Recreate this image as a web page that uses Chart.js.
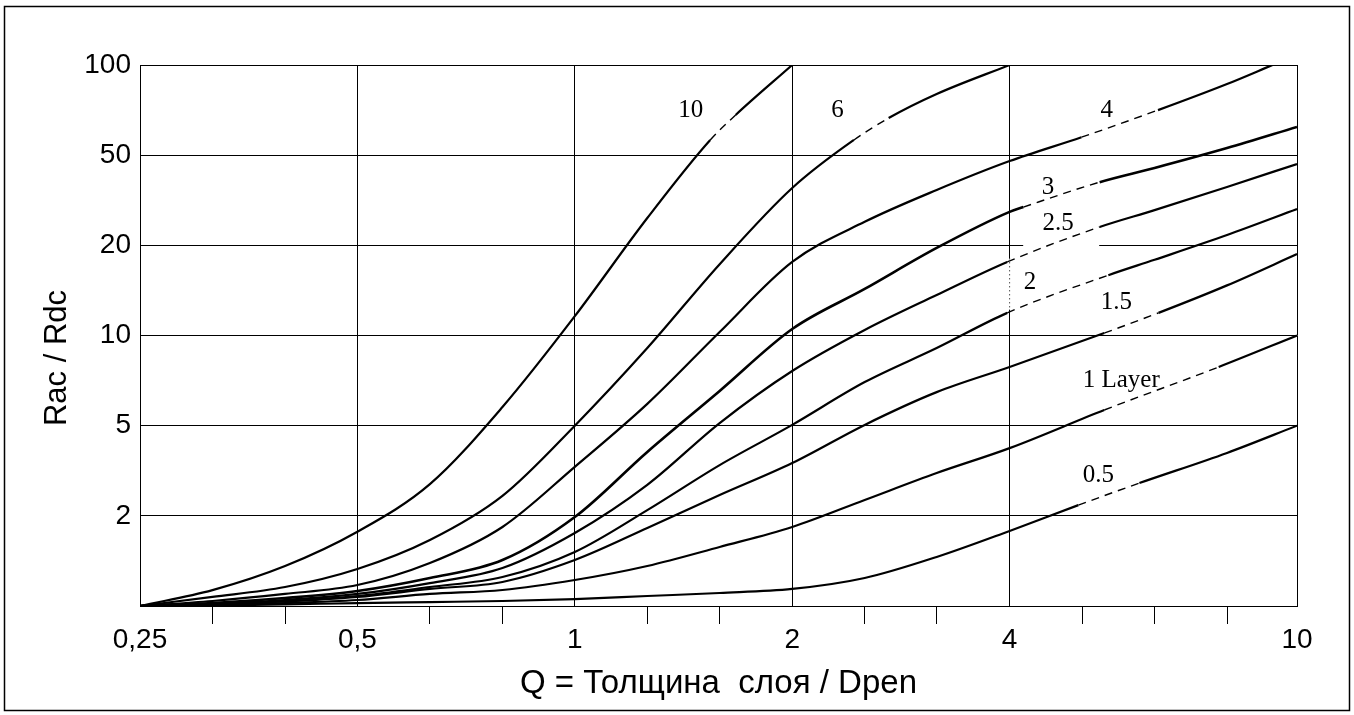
<!DOCTYPE html>
<html lang="ru">
<head>
<meta charset="UTF-8">
<title>Rac / Rdc</title>
<script src="https://cdn.jsdelivr.net/npm/chart.js"></script>
<style>
body { margin: 0; background: #fff; }
canvas { display: block; }
</style>
</head>
<body>
<canvas id="chart" width="1354" height="715"></canvas>
<script>
// ось Y: шаги 1-2-5, нарисованы через равные промежутки
const yTickValues = [1, 2, 5, 10, 20, 50, 100];
const yTickLabels = ['', '2', '5', '10', '20', '50', '100'];
const xMajorTicks = [0.25, 0.5, 1, 2, 4, 10];
const xMajorLabels = ['0,25', '0,5', '1', '2', '4', '10'];
const xMinorTicks = [0.315, 0.397, 0.63, 0.794, 1.26, 1.587, 2.52, 3.17, 5.04, 6.35, 8];

// кривые: Q и Rac/Rdc
const q10 = [0.25, 0.315, 0.397, 0.5, 0.63, 0.794, 1, 1.26, 1.54, 1.67, 2];
const r10 = [1, 1.13, 1.36, 1.77, 2.76, 5.77, 11.6, 26.4, 56.2, 68.1, 100];
const q6 = [0.25, 0.315, 0.397, 0.5, 0.63, 0.794, 1, 1.26, 1.587, 2, 2.435, 2.72, 3.17, 4];
const r6 = [1, 1.072, 1.157, 1.329, 1.661, 2.45, 5.0, 9.08, 17.3, 35.8, 56.2, 66.5, 80, 100];
const q4 = [0.25, 0.315, 0.397, 0.5, 0.63, 0.794, 1, 1.26, 1.587, 2, 2.52, 3.17, 4, 5.03, 6.42, 8, 9.25];
const r4 = [1, 1.039, 1.097, 1.175, 1.392, 1.836, 3.29, 5.91, 10.27, 17.6, 25.4, 35.1, 47.1, 57.4, 70.7, 86.4, 100];
const q3 = [0.25, 0.315, 0.397, 0.5, 0.63, 0.794, 1, 1.26, 1.587, 2, 2.52, 3.17, 4, 4.18, 5.33, 6.35, 8, 10];
const r3 = [1, 1.023, 1.063, 1.122, 1.24, 1.424, 1.982, 3.83, 6.53, 10.51, 14.3, 19.6, 28.1, 29.5, 38.0, 43.9, 52.8, 62.1];
const q25 = [0.25, 0.315, 0.397, 0.5, 0.63, 0.794, 1, 1.26, 1.587, 2, 2.52, 3.17, 3.97, 5.33, 6.35, 8, 10];
const r25 = [1, 1.019, 1.047, 1.097, 1.193, 1.339, 1.753, 2.74, 5.10, 7.61, 10.43, 13.65, 17.6, 24.1, 28.6, 36.2, 45.7];
const q2 = [0.25, 0.315, 0.397, 0.5, 0.63, 0.794, 1, 1.26, 1.587, 2, 2.52, 3.17, 3.97, 5.48, 6.35, 8, 10];
const r2 = [1, 1.016, 1.039, 1.08, 1.157, 1.25, 1.515, 2.12, 3.35, 5.03, 6.99, 9.08, 11.9, 15.9, 17.9, 22.2, 28.9];
const q15 = [0.25, 0.315, 0.397, 0.5, 0.63, 0.794, 1, 1.26, 1.587, 2, 2.52, 3.17, 4, 5.41, 6.43, 8, 10];
const r15 = [1, 1.016, 1.035, 1.072, 1.14, 1.203, 1.424, 1.821, 2.47, 3.42, 5.03, 6.47, 7.85, 10.19, 11.9, 14.7, 18.7];
const q1 = [0.25, 0.315, 0.397, 0.5, 0.63, 0.794, 1, 1.26, 1.587, 2, 2.52, 3.17, 4, 5.41, 7.79, 10];
const r1 = [1, 1.008, 1.023, 1.047, 1.097, 1.131, 1.221, 1.36, 1.574, 1.836, 2.35, 3.09, 3.98, 5.64, 7.85, 10];
const q05 = [0.25, 0.315, 0.397, 0.5, 0.63, 0.794, 1, 1.26, 1.587, 2, 2.52, 3.17, 4, 4.98, 6.05, 8, 10];
const r05 = [1, 1.004, 1.012, 1.023, 1.031, 1.039, 1.055, 1.08, 1.105, 1.14, 1.24, 1.458, 1.781, 2.23, 2.79, 3.79, 5.0];

// участки под подписями (пунктир)
const dashFrom = [1.54, 2.435, 5.03, 4.18, 3.97, 3.97, 5.41, 5.41, 4.98];
const dashTo = [1.67, 2.72, 6.42, 5.33, 5.33, 5.48, 6.43, 7.79, 6.05];

const curveLabels = ['10', '6', '4', '3', '2.5', '2', '1.5', '1 Layer', '0.5'];
const labelQ = [1.447, 2.31, 5.45, 4.52, 4.67, 4.27, 5.62, 5.71, 5.31];
const labelR = [70.7, 70.7, 70.7, 36.2, 25.1, 15.0, 12.9, 7.10, 3.03];

// пунктирная вертикаль на Q=4 (разрыв сетки у подписи 2)
const markQ = [4, 4];
const markR = [18.1, 12.2];

const xTitle = 'Q = Толщина  слоя / Dpen';
const yTitle = 'Rac / Rdc';

function pos(v) {
  const T = yTickValues;
  for (let i = 0; i < T.length - 1; i++) {
    if (v <= T[i + 1]) return i + Math.log(v / T[i]) / Math.log(T[i + 1] / T[i]);
  }
  return T.length - 1;
}

const series = [[q10, r10], [q6, r6], [q4, r4], [q3, r3], [q25, r25], [q2, r2], [q15, r15], [q1, r1], [q05, r05]];

const inDash = (c, i) => c.p0.parsed.x >= dashFrom[i] - 1e-6 && c.p1.parsed.x <= dashTo[i] + 1e-6;

const datasets = series.map((s, i) => ({
  label: curveLabels[i],
  data: s[0].map((q, j) => ({ x: q, y: pos(s[1][j]) })),
  borderColor: '#000',
  borderWidth: i === 3 ? 2.6 : 2.2,
  pointRadius: 0,
  cubicInterpolationMode: 'monotone',
  segment: {
    borderDash: c => inDash(c, i) ? [8, 6] : undefined,
    borderWidth: c => inDash(c, i) ? 1.4 : undefined
  }
}));
datasets.push({
  label: 'mark',
  data: markQ.map((q, j) => ({ x: q, y: pos(markR[j]) })),
  borderColor: '#000',
  borderWidth: 1,
  borderDash: [1, 3],
  pointRadius: 0
});

const isMajor = v => xMajorTicks.some(m => Math.abs(m - v) < 1e-6);

const decor = {
  id: 'decor',
  beforeDatasetsDraw(chart) {
    // белые подложки под подписями 2.5 и 2
    const { ctx, scales: { x, y } } = chart;
    ctx.save();
    ctx.fillStyle = '#fff';
    const px = x.getPixelForValue(labelQ[4]);
    const py = y.getPixelForValue(pos(labelR[4]));
    ctx.fillRect(px - 35, py - 18, 76, 44);
    const gx = x.getPixelForValue(markQ[0]);
    const gTop = y.getPixelForValue(pos(markR[0]));
    const gBot = y.getPixelForValue(pos(markR[1]));
    ctx.fillRect(gx - 2, gTop, 40, gBot - gTop);
    ctx.restore();
  },
  afterDraw(chart) {
    const { ctx, scales: { x, y } } = chart;
    ctx.save();
    ctx.fillStyle = '#000';
    ctx.textAlign = 'center';
    ctx.textBaseline = 'middle';
    ctx.font = '25px "Liberation Serif", "Times New Roman", serif';
    curveLabels.forEach((t, i) => {
      ctx.fillText(t, x.getPixelForValue(labelQ[i]), y.getPixelForValue(pos(labelR[i])));
    });
    ctx.font = '33px "Liberation Sans", Arial, sans-serif';
    ctx.fillText(xTitle, (chart.chartArea.left + chart.chartArea.right) / 2, 684);
    ctx.font = '31px "Liberation Sans", Arial, sans-serif';
    ctx.translate(57, 358);
    ctx.rotate(-Math.PI / 2);
    ctx.fillText(yTitle, 0, 0);
    ctx.restore();
    ctx.save();
    ctx.strokeStyle = '#000';
    ctx.lineWidth = 1.5;
    ctx.strokeRect(4.5, 6.5, 1345, 704);
    ctx.restore();
  }
};

new Chart(document.getElementById('chart'), {
  type: 'line',
  data: { datasets: datasets },
  options: {
    responsive: false,
    animation: false,
    devicePixelRatio: 1,
    layout: { padding: { left: 0, top: 65, right: 57, bottom: 0 } },
    plugins: { legend: { display: false }, tooltip: { enabled: false } },
    scales: {
      x: {
        type: 'logarithmic',
        min: 0.25,
        max: 10,
        afterBuildTicks: s => {
          s.ticks = xMajorTicks.concat(xMinorTicks).sort((a, b) => a - b).map(v => ({ value: v }));
        },
        afterFit: s => { s.height = 109; },
        ticks: {
          autoSkip: false,
          maxRotation: 0,
          padding: -1,
          color: '#000',
          font: { family: '"Liberation Sans", Arial, sans-serif', size: 28 },
          callback: v => {
            const k = xMajorTicks.findIndex(m => Math.abs(m - v) < 1e-6);
            return k >= 0 ? xMajorLabels[k] : '';
          }
        },
        grid: {
          color: c => (c.tick && isMajor(c.tick.value)) ? '#000' : 'rgba(0,0,0,0)',
          tickColor: c => (c.tick && isMajor(c.tick.value)) ? 'rgba(0,0,0,0)' : '#000',
          lineWidth: 1,
          tickLength: 18
        },
        border: { display: true, color: '#000', width: 1 }
      },
      y: {
        type: 'linear',
        min: 0,
        max: 6,
        afterBuildTicks: s => {
          s.ticks = yTickValues.map((v, i) => ({ value: i }));
        },
        afterFit: s => { s.width = 140; },
        ticks: {
          autoSkip: false,
          padding: 9,
          color: '#000',
          font: { family: '"Liberation Sans", Arial, sans-serif', size: 28 },
          callback: v => yTickLabels[v] !== undefined ? yTickLabels[v] : ''
        },
        grid: { color: '#000', lineWidth: 1, drawTicks: false },
        border: { display: true, color: '#000', width: 1 }
      }
    }
  },
  plugins: [decor]
});
</script>
</body>
</html>
